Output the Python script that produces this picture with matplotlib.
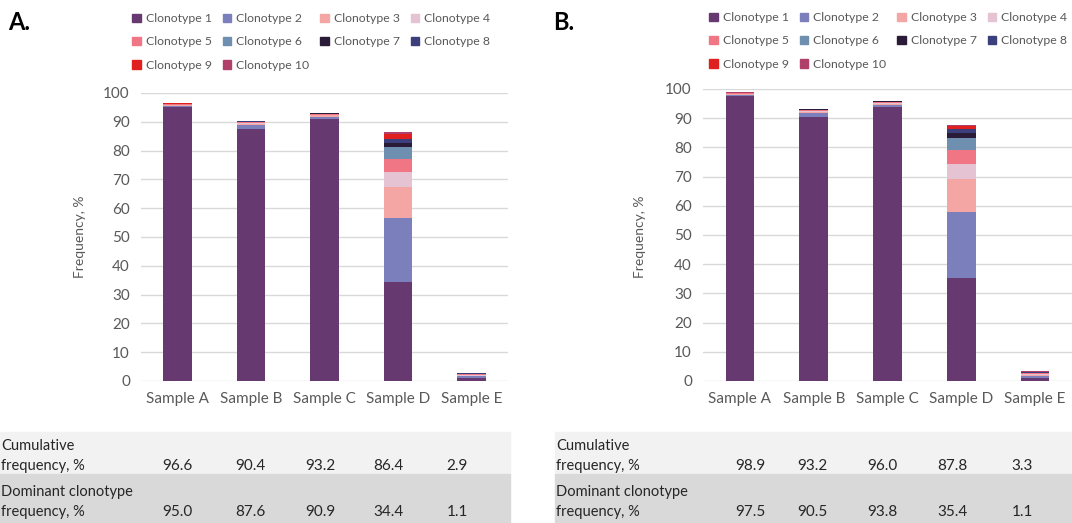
import matplotlib.pyplot as plt
from matplotlib.patches import Rectangle, Patch

plt.rcParams['font.family'] = ['Lato', 'DejaVu Sans']

samples = ['Sample A', 'Sample B', 'Sample C', 'Sample D', 'Sample E']
clonotypes = ['Clonotype %d' % i for i in range(1, 11)]
colors = ['#663a70', '#7b80bd', '#f4a6a4', '#e6c3d2', '#f07585',
          '#6f8fb0', '#2a1c38', '#3b3f7c', '#e0201e', '#b0406a']

# frequency of each clonotype (rows) per sample (columns), panel A
freq_a = [
    [95.0, 87.6, 90.9, 34.4, 1.1],
    [0.4, 1.2, 0.8, 22.1, 0.5],
    [0.3, 0.5, 0.5, 10.7, 0.3],
    [0.1, 0.2, 0.2, 5.2, 0.2],
    [0.3, 0.3, 0.2, 4.6, 0.3],
    [0.1, 0.2, 0.2, 4.1, 0.1],
    [0.1, 0.1, 0.1, 1.6, 0.1],
    [0.0, 0.1, 0.1, 1.2, 0.1],
    [0.1, 0.1, 0.1, 1.9, 0.1],
    [0.2, 0.1, 0.1, 0.6, 0.1],
]

# panel B
freq_b = [
    [97.5, 90.5, 93.8, 35.4, 1.1],
    [0.3, 1.2, 0.7, 22.4, 0.5],
    [0.4, 0.5, 0.5, 11.4, 0.4],
    [0.1, 0.2, 0.2, 5.1, 0.3],
    [0.2, 0.3, 0.2, 4.8, 0.3],
    [0.1, 0.2, 0.2, 4.0, 0.2],
    [0.1, 0.1, 0.2, 1.7, 0.1],
    [0.0, 0.0, 0.0, 1.4, 0.1],
    [0.1, 0.1, 0.1, 1.1, 0.2],
    [0.1, 0.1, 0.1, 0.5, 0.1],
]

W, H = 1072, 523
fig = plt.figure(figsize=(W / 100, H / 100), dpi=100)


def px(x0, y0, x1, y1):
    # pixel box (top-left origin) -> figure rect
    return [x0 / W, 1 - y1 / H, (x1 - x0) / W, (y1 - y0) / H]


def panel(freq, axbox, letter, letter_xy, leg_xy, ylab_x, table_x, value_x):
    ax = fig.add_axes(px(*axbox))
    x = range(len(samples))
    bottom = [0.0] * len(samples)
    handles = []
    for row, c, name in zip(freq, colors, clonotypes):
        ax.bar(x, row, 0.39, bottom=bottom, color=c, linewidth=0, zorder=3)
        bottom = [b + v for b, v in zip(bottom, row)]
        handles.append(Patch(color=c, label=name))
    ax.set_ylim(0, 100)
    ax.set_xlim(-0.5, len(samples) - 0.5)
    ax.set_yticks(range(0, 101, 10))
    ax.grid(axis='y', color='#d9d9d9', linewidth=1, zorder=0)
    for s in ax.spines.values():
        s.set_visible(False)
    ax.tick_params(length=0, labelsize=11, colors='#595959', pad=8)
    ax.set_xticks(list(x))
    ax.set_xticklabels(samples)
    fig.text(ylab_x / W, 1 - 237 / H, 'Frequency, %', rotation=90,
             ha='center', va='center', fontsize=10, color='#595959')
    fig.text(letter_xy[0] / W, 1 - letter_xy[1] / H, letter,
             fontsize=17, fontweight='bold', ha='left', va='center')

    order = [0, 4, 8, 1, 5, 9, 2, 6, 3, 7]
    fig.legend([handles[i] for i in order], [clonotypes[i] for i in order],
               ncol=4, loc='upper left',
               bbox_to_anchor=(leg_xy[0] / W, 1 - leg_xy[1] / H),
               frameon=False, fontsize=8.8, labelcolor='#595959',
               handlelength=0.7, handleheight=0.7, handletextpad=0.4,
               columnspacing=0.9, labelspacing=1.0, borderpad=0)

    # summary table under the chart
    cum = [sum(col) for col in zip(*freq)]
    dom = freq[0]
    x0, x1 = table_x
    fig.patches.append(Rectangle((x0 / W, 1 - 474 / H), (x1 - x0) / W, 42 / H,
                                 transform=fig.transFigure, color='#f2f2f2', zorder=0))
    fig.patches.append(Rectangle((x0 / W, 0), (x1 - x0) / W, 49 / H,
                                 transform=fig.transFigure, color='#d9d9d9', zorder=0))
    tx = (x0 + 1) / W
    fig.text(tx, 1 - 446 / H, 'Cumulative', fontsize=10.5, va='center', color='#262626')
    fig.text(tx, 1 - 466 / H, 'frequency, %', fontsize=10.5, va='center', color='#262626')
    fig.text(tx, 1 - 492 / H, 'Dominant clonotype', fontsize=10.5, va='center', color='#262626')
    fig.text(tx, 1 - 512 / H, 'frequency, %', fontsize=10.5, va='center', color='#262626')
    for vx, c, d in zip(value_x, cum, dom):
        fig.text(vx / W, 1 - 466 / H, '%.1f' % c, fontsize=11, ha='center',
                 va='center', color='#262626')
        fig.text(vx / W, 1 - 512 / H, '%.1f' % d, fontsize=11, ha='center',
                 va='center', color='#262626')


panel(freq_a, (141, 93, 508, 381), 'A.', (8, 22), (126, 7), 80,
      (0, 510), [177, 250, 320, 388, 457])
panel(freq_b, (703, 89, 1072, 381), 'B.', (553, 22), (703, 6), 640,
      (555, 1072), [750, 812, 882, 952, 1022])

fig.savefig('out.png', dpi=100)
